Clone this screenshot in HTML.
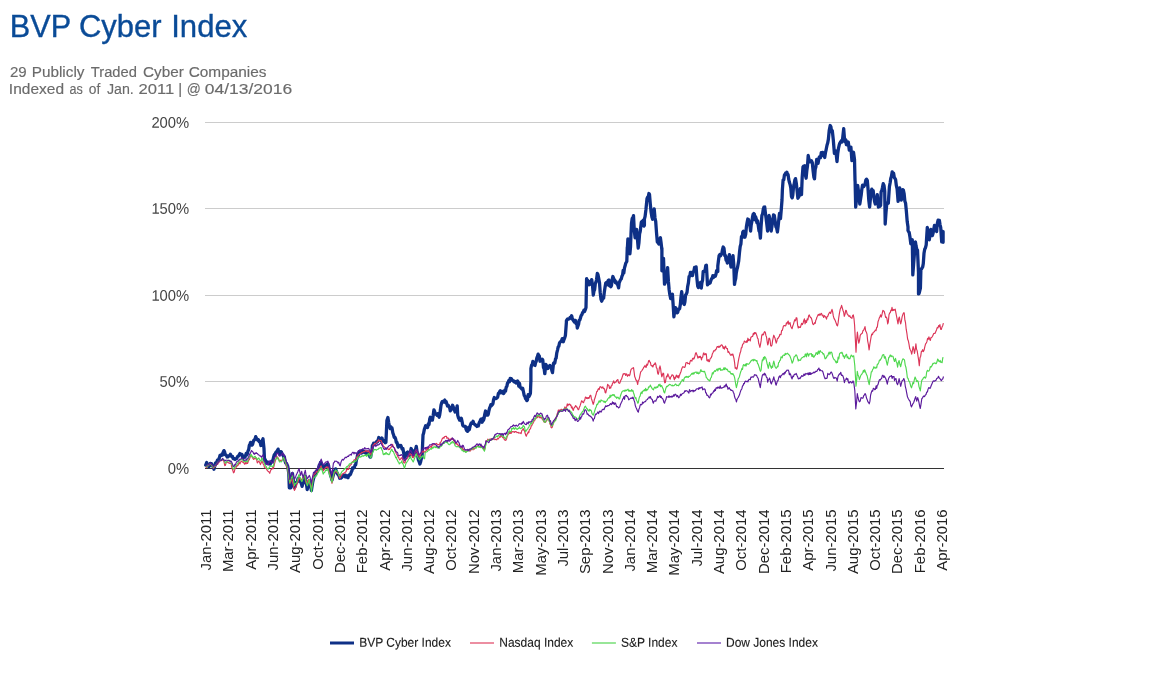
<!DOCTYPE html>
<html><head><meta charset="utf-8"><title>BVP Cyber Index</title>
<style>
html,body{margin:0;padding:0;background:#fff;}
body{width:1163px;height:684px;overflow:hidden;font-family:"Liberation Sans",sans-serif;}
svg{display:block;position:absolute;left:0;top:0;will-change:transform;}
svg text{font-family:"Liberation Sans",sans-serif;}
.t{fill:#0a4b97;stroke:#0a4b97;stroke-width:0.35px;}
.s{fill:#6b6b6b;stroke:#6b6b6b;stroke-width:0.15px;}
.yl{font-size:14.8px;fill:#444;text-anchor:end;}
.xl{font-size:14.9px;fill:#222;text-anchor:end;}
.lg{font-size:12px;fill:#1c1c1c;stroke:#1c1c1c;stroke-width:0.12px;}
</style></head>
<body>
<svg width="1163" height="684" viewBox="0 0 1163 684">
<rect width="1163" height="684" fill="#fff"/>
<text class="t" font-size="32" transform="translate(9.82,36.9) scale(0.9584,1)">BVP</text>
<text class="t" font-size="32" transform="translate(78.93,36.9) scale(0.9681,1)">Cyber</text>
<text class="t" font-size="32" transform="translate(171.15,36.9) scale(0.974,1)">Index</text>
<text class="s" font-size="15" transform="translate(9.9,76.8) scale(1.0035,1)">29</text>
<text class="s" font-size="15" transform="translate(31.68,76.8) scale(1.0217,1)">Publicly</text>
<text class="s" font-size="15" transform="translate(90.8,76.8) scale(0.9822,1)">Traded</text>
<text class="s" font-size="15" transform="translate(143,76.8) scale(1.0196,1)">Cyber</text>
<text class="s" font-size="15" transform="translate(188.7,76.8) scale(1.0269,1)">Companies</text>
<text class="s" font-size="15" transform="translate(8.87,93.6) scale(1.0339,1)">Indexed</text>
<text class="s" font-size="15" transform="translate(69.5,93.6) scale(0.8408,1)">as</text>
<text class="s" font-size="15" transform="translate(88.8,93.6) scale(0.9219,1)">of</text>
<text class="s" font-size="15" transform="translate(106.9,93.6) scale(0.9491,1)">Jan.</text>
<text class="s" font-size="15" transform="translate(138.5,93.6) scale(1.1092,1)">2011</text>
<text class="s" font-size="15" transform="translate(178.35,93.6) scale(1,1)">|</text>
<text class="s" font-size="15" transform="translate(186.78,93.6) scale(0.9231,1)">@</text>
<text class="s" font-size="15" transform="translate(204.8,93.6) scale(1.1655,1)">04/13/2016</text>
<line x1="205" x2="944" y1="122.5" y2="122.5" stroke="#cccccc" stroke-width="1"/>
<line x1="205" x2="944" y1="208.5" y2="208.5" stroke="#cccccc" stroke-width="1"/>
<line x1="205" x2="944" y1="295.5" y2="295.5" stroke="#cccccc" stroke-width="1"/>
<line x1="205" x2="944" y1="381.5" y2="381.5" stroke="#cccccc" stroke-width="1"/>
<text class="yl" transform="translate(189.2,127.7) rotate(0.05) scale(1,1.04)">200%</text>
<text class="yl" transform="translate(189.2,213.7) rotate(0.05) scale(1,1.04)">150%</text>
<text class="yl" transform="translate(189.2,300.7) rotate(0.05) scale(1,1.04)">100%</text>
<text class="yl" transform="translate(189.2,386.7) rotate(0.05) scale(1,1.04)">50%</text>
<text class="yl" transform="translate(189.2,473.7) rotate(0.05) scale(1,1.04)">0%</text>
<line x1="205" x2="944" y1="468.5" y2="468.5" stroke="#333" stroke-width="1"/>
<path d="M205.7 465.1L206.7 462.5L207.5 465.5L208.3 466.1L208.9 466.8L209.5 464.9L210.2 463.5L210.8 463.5L211.5 463.7L212.1 465.8L212.7 466.0L213.3 466.9L213.9 469.2L214.7 466.3L215.5 463.0L216.1 462.5L216.8 462.2L217.4 460.2L218.1 460.4L218.7 459.3L219.3 458.1L220.0 455.5L220.6 455.8L221.3 455.2L222.0 454.0L222.6 455.0L223.3 451.9L223.9 450.6L224.6 451.9L225.2 454.6L225.8 454.8L226.5 455.6L227.2 457.0L227.9 456.8L228.5 455.8L229.2 455.7L229.8 455.9L230.4 454.3L231.1 455.9L231.7 456.4L232.4 456.3L233.0 458.4L233.7 458.9L234.3 458.7L235.0 459.4L235.6 458.9L236.2 458.4L236.8 458.5L237.4 456.8L238.0 456.3L238.6 456.0L239.2 454.8L239.9 453.6L240.6 454.0L241.3 454.3L241.9 454.4L242.5 457.4L243.1 456.0L243.8 457.3L244.4 457.3L245.0 457.1L245.6 455.4L246.2 453.4L246.9 454.9L247.5 453.2L248.1 450.7L248.7 449.6L249.3 445.4L249.9 444.1L250.6 442.4L251.3 444.3L251.9 445.2L252.6 444.4L253.3 441.7L253.9 440.0L254.5 439.8L255.1 438.9L255.7 436.7L256.4 438.1L257.1 439.4L257.8 440.3L258.5 439.7L259.2 441.6L259.9 441.4L260.9 445.5L261.6 444.4L262.3 440.6L263.0 438.8L264.0 448.6L264.5 459.9L265.1 459.5L265.8 461.0L266.4 463.3L267.1 463.5L267.7 462.1L268.3 463.7L268.9 462.9L269.6 463.8L270.2 464.1L270.9 462.8L271.6 462.0L272.2 461.0L272.9 460.3L273.6 457.2L274.3 454.8L274.9 455.1L275.5 453.0L276.2 451.8L276.8 451.8L277.4 450.6L278.1 449.1L278.8 453.0L279.5 454.3L280.2 453.7L280.8 451.7L281.5 452.2L282.2 454.2L282.9 454.8L283.6 456.8L284.3 456.6L285.0 460.8L285.7 463.0L286.3 463.2L287.0 464.6L287.7 466.1L288.8 473.3L289.3 487.8L290.0 487.7L290.8 487.8L291.6 481.7L292.4 473.3L293.1 478.3L293.7 482.9L294.4 487.8L295.1 486.4L295.8 482.7L296.5 482.6L297.3 481.7L298.0 478.5L298.7 478.5L299.3 480.7L300.0 481.3L300.7 482.0L301.4 483.8L302.1 486.4L302.7 483.5L303.4 483.0L304.0 479.3L304.6 476.1L305.3 478.9L305.9 482.6L306.6 485.1L307.2 489.5L307.9 486.8L308.6 483.5L309.3 481.3L310.0 485.0L310.7 486.3L311.4 490.6L312.0 486.5L312.7 482.2L313.4 479.2L314.1 476.5L314.8 475.7L315.5 473.0L316.1 472.1L316.7 471.5L317.3 471.0L318.0 469.9L318.6 467.9L319.2 465.3L319.9 465.8L320.5 462.4L321.2 462.7L321.8 464.7L322.5 468.6L323.2 468.9L323.9 467.7L324.6 466.5L325.3 465.8L325.9 465.4L326.6 464.8L327.2 464.3L327.9 463.7L328.6 465.8L329.2 470.2L329.9 472.0L330.6 475.5L331.3 477.3L332.0 480.2L332.7 477.4L333.4 474.6L334.1 471.0L334.8 470.9L335.6 468.9L336.3 471.0L337.0 473.0L337.7 474.1L338.4 475.2L339.0 475.8L339.7 478.2L340.4 477.2L341.0 478.1L341.7 477.5L342.3 476.1L342.9 476.0L343.6 475.2L344.2 475.8L344.8 476.7L345.4 475.1L346.1 477.0L346.7 475.8L347.3 477.0L348.0 477.7L348.6 475.5L349.3 474.8L349.9 475.1L350.6 474.1L351.3 472.0L351.9 470.8L352.6 467.9L353.3 468.3L353.9 467.4L354.5 467.2L355.1 464.9L355.7 464.8L356.4 459.9L357.1 457.7L357.8 453.4L358.4 455.5L359.0 453.1L359.6 451.4L360.3 452.4L360.9 451.9L361.5 453.1L362.1 450.7L362.7 452.3L363.4 450.9L364.0 451.4L364.6 452.6L365.2 452.3L365.8 452.0L366.5 453.6L367.1 451.9L367.8 452.0L368.5 452.2L369.1 453.4L369.9 457.0L370.7 457.0L371.3 452.3L371.9 451.4L372.4 445.4L373.0 444.9L373.6 443.3L374.2 443.9L374.8 443.5L375.4 443.0L376.0 442.3L376.7 441.4L377.4 442.0L378.1 440.2L378.8 437.5L379.4 438.9L380.0 438.8L380.7 438.7L381.3 441.2L382.0 438.0L382.6 440.3L383.3 441.3L383.9 440.4L384.6 441.1L385.2 442.7L385.9 442.3L386.9 420.6L387.9 417.5L388.7 422.6L389.5 426.8L390.1 428.6L390.8 426.7L391.4 427.9L392.0 427.9L392.8 432.7L393.6 435.1L394.3 437.4L395.0 437.5L395.7 439.2L396.3 442.4L397.0 442.4L397.7 445.4L398.3 447.1L399.0 445.6L399.6 445.3L400.2 445.7L400.8 445.4L401.5 447.3L402.2 449.2L402.9 448.5L403.7 453.0L404.4 457.8L405.1 456.2L405.7 455.8L406.4 453.1L407.0 452.6L407.7 452.0L408.4 455.5L409.1 455.7L409.8 453.0L410.4 452.0L411.1 448.5L411.8 449.9L412.5 450.5L413.2 455.7L413.8 454.1L414.4 452.2L415.1 451.7L415.7 448.8L416.3 446.4L417.0 451.2L417.7 455.9L418.4 459.9L419.1 461.6L419.9 464.0L420.6 462.0L421.3 458.6L422.0 457.8L423.0 435.1L423.6 433.3L424.3 429.6L424.9 427.7L425.6 425.8L426.3 426.9L427.0 427.5L427.6 426.8L427.6 427.5L428.3 423.8L429.0 424.5L429.7 419.1L430.3 417.2L431.0 419.1L431.7 420.2L432.4 420.2L433.2 415.3L433.9 409.9L434.6 411.2L435.2 414.0L435.9 414.0L436.5 414.1L437.2 415.3L437.8 413.6L438.4 415.6L439.1 417.2L439.7 414.8L440.4 410.1L441.0 405.2L441.7 402.7L442.3 401.5L442.9 401.3L443.5 401.9L444.1 401.1L444.8 400.1L445.5 402.5L446.1 401.6L446.8 403.7L447.5 405.9L448.2 405.2L448.9 406.8L449.6 407.5L450.3 410.8L451.0 409.9L451.7 407.7L452.5 405.3L453.2 406.8L453.8 408.4L454.4 409.9L455.1 412.0L455.8 411.7L456.5 409.4L457.2 405.8L457.7 415.1L458.4 417.6L459.0 418.7L459.7 420.2L460.5 420.3L461.3 418.2L462.1 421.7L462.8 425.4L463.5 426.1L464.1 426.3L464.8 426.3L465.4 426.4L466.1 429.3L466.7 430.6L467.3 431.3L468.0 431.1L468.6 427.4L469.3 429.7L469.9 426.8L470.6 424.4L471.2 423.1L471.9 422.8L472.5 423.3L473.1 421.3L473.8 423.6L474.4 424.3L475.1 424.5L475.7 425.4L476.4 425.6L477.0 426.5L477.7 425.7L478.3 425.9L479.0 423.3L479.6 421.9L480.2 420.7L480.9 419.2L481.5 419.8L482.2 422.2L482.8 418.5L483.5 420.2L484.2 417.7L484.8 414.0L485.5 411.0L486.2 412.7L486.9 415.2L487.6 415.1L488.2 414.4L488.9 410.8L489.5 408.3L490.2 406.8L490.9 404.6L491.6 405.4L492.2 404.8L492.9 403.8L493.6 399.6L494.3 397.5L494.9 398.5L495.6 398.6L496.2 398.4L496.9 398.1L497.7 397.0L498.4 393.4L499.1 392.9L499.7 391.6L500.3 390.8L500.9 392.8L501.5 391.4L502.2 391.3L502.8 391.8L503.5 393.5L504.1 392.9L504.8 390.1L505.5 391.2L506.2 387.2L506.9 386.3L507.5 383.1L508.2 382.1L508.9 380.5L509.5 381.8L510.2 378.3L510.8 379.0L511.4 378.8L512.0 379.9L512.6 380.5L513.2 380.8L513.8 381.7L514.4 381.3L514.9 382.1L515.6 381.7L516.2 383.1L516.9 382.1L517.5 381.0L518.2 382.0L518.8 386.2L519.5 383.3L520.1 387.2L520.7 387.6L521.4 388.5L522.0 389.2L522.7 388.3L523.5 392.0L524.2 395.5L524.9 396.3L525.5 398.7L526.2 399.1L526.8 400.6L527.5 399.8L528.2 394.6L528.9 396.5L529.6 395.4L530.4 393.4L530.9 380.0L530.9 381.9L530.9 368.5L531.6 365.1L532.2 364.9L532.9 361.3L533.6 363.6L534.3 365.0L535.0 365.4L535.6 362.6L536.2 361.4L536.8 358.1L537.4 356.6L538.1 354.1L538.7 355.4L539.3 356.0L540.0 361.3L540.6 360.2L541.4 360.7L542.2 359.2L542.8 360.2L543.5 367.6L544.1 368.3L544.8 373.7L545.8 364.4L546.5 365.5L547.2 366.4L547.9 368.5L548.6 366.8L549.2 366.7L549.9 365.4L550.6 366.8L551.2 367.2L551.9 370.8L552.5 372.6L553.5 363.3L554.2 362.5L554.8 363.1L555.5 358.9L556.1 358.2L556.8 352.8L557.5 350.1L558.2 346.8L558.8 346.4L559.5 343.0L560.1 342.0L560.8 341.7L561.5 340.9L562.3 338.6L563.3 341.7L564.0 339.6L564.7 337.9L565.4 335.5L566.4 322.1L566.4 320.9L567.1 319.6L567.7 318.9L568.3 319.2L568.9 319.0L569.5 318.8L570.2 317.3L570.9 317.4L571.6 315.7L572.3 318.3L573.0 320.0L573.7 320.9L574.3 322.0L574.9 320.4L575.5 320.5L576.1 323.6L576.8 323.0L577.3 328.1L577.9 326.1L578.6 324.2L579.2 320.2L579.9 319.9L580.5 317.8L581.2 315.5L581.9 314.7L582.6 312.6L583.2 312.2L583.9 310.2L584.5 311.6L585.3 309.7L586.0 307.5L586.6 278.6L587.2 282.0L587.9 280.5L588.5 283.4L589.1 284.8L589.8 281.7L590.4 283.3L591.1 283.9L591.7 279.6L592.5 285.4L593.3 295.1L594.0 290.9L594.6 289.8L595.3 283.7L596.0 282.0L596.6 279.3L597.3 273.5L597.9 274.4L598.7 278.3L599.5 282.7L600.2 292.4L601.0 299.2L601.7 301.2L602.3 299.7L602.9 297.5L603.6 298.2L604.4 291.4L605.1 286.8L605.8 282.9L606.4 282.6L607.0 284.9L607.6 281.7L608.2 280.6L608.9 280.0L609.5 285.8L610.2 282.6L610.8 286.8L611.5 285.4L612.2 279.4L612.9 276.5L613.5 278.1L614.1 279.7L614.7 280.0L615.4 282.6L616.0 281.7L616.6 283.2L617.3 284.2L617.9 285.3L618.6 287.9L619.2 282.8L619.9 281.2L620.6 279.6L621.3 278.9L621.9 276.3L622.6 274.9L623.2 270.3L623.8 273.0L624.5 267.9L625.1 265.7L625.8 263.1L626.8 261.5L627.3 247.1L627.3 250.2L627.9 238.8L628.9 240.9L629.4 248.1L629.9 253.8L630.5 247.1L631.0 233.7L631.5 223.3L632.2 218.4L632.9 217.7L633.5 215.6L634.3 230.7L635.1 237.8L635.9 234.6L636.6 229.5L637.4 238.6L638.2 248.1L638.9 243.1L639.6 233.7L640.2 231.6L641.3 222.3L641.9 221.5L642.5 221.2L643.1 220.3L643.8 226.1L644.4 225.4L644.4 219.2L645.1 216.4L645.9 209.9L647.0 198.6L647.6 197.2L648.2 197.2L648.9 193.5L649.5 194.4L650.3 204.1L651.1 212.0L651.9 217.0L652.6 219.2L653.4 216.9L654.2 208.9L655.0 218.0L655.7 221.3L656.5 232.5L657.3 241.9L658.0 242.7L658.8 244.0L659.6 239.4L660.4 237.8L661.1 242.9L661.9 250.2L661.9 248.1L661.9 270.8L662.7 265.6L663.5 258.4L664.5 284.2L665.2 282.7L665.9 279.4L666.6 277.0L667.6 267.7L668.4 281.2L669.1 289.4L669.9 295.0L670.7 298.7L671.3 297.2L671.8 295.4L672.4 294.2L673.2 305.7L673.9 316.9L674.7 310.9L675.5 307.6L676.3 308.7L677.0 312.8L677.7 312.3L678.3 309.9L679.0 309.3L679.6 308.7L680.3 304.8L681.0 297.0L681.7 291.6L682.3 296.9L683.0 298.1L683.6 303.6L684.3 304.5L684.9 301.8L685.6 294.9L686.3 294.2L687.0 292.4L687.7 286.3L688.4 282.9L689.1 276.3L689.8 276.2L690.4 272.5L691.1 273.8L691.8 272.5L692.5 275.6L693.2 271.9L693.9 271.0L694.6 267.4L695.3 269.5L696.1 266.9L696.9 278.3L697.7 286.0L698.4 287.6L699.0 287.1L699.7 284.9L700.5 282.5L701.3 288.0L701.9 282.7L702.6 280.1L703.2 271.3L703.9 271.5L704.5 271.2L705.1 269.9L705.8 265.6L706.4 265.3L707.5 284.9L708.1 283.8L708.8 282.4L709.4 283.4L710.1 282.9L710.8 280.7L711.6 278.7L712.2 278.1L712.8 275.8L713.5 277.5L714.1 275.7L714.7 275.6L715.3 276.3L715.9 274.5L716.6 270.7L717.2 270.1L717.8 271.5L717.8 266.0L718.4 261.0L719.1 255.7L719.8 254.6L720.5 255.8L721.2 254.7L721.8 253.5L722.5 249.6L723.2 247.0L724.0 248.4L724.8 255.7L725.4 255.5L726.1 260.3L726.7 259.4L727.3 263.0L728.0 262.1L728.7 257.3L729.4 254.7L730.2 261.8L731.0 267.1L731.6 261.8L732.3 259.3L733.0 255.7L733.8 265.2L734.5 284.4L735.1 280.8L735.7 278.6L736.3 272.9L736.9 269.6L737.5 267.5L738.1 264.3L738.7 260.9L739.5 252.3L740.2 246.4L740.9 244.0L741.5 236.3L742.2 237.6L742.8 232.0L743.5 231.2L744.2 234.0L744.9 237.2L745.7 234.4L746.4 226.8L747.1 222.6L747.8 219.0L748.5 219.6L749.2 223.5L749.9 225.5L750.6 231.0L751.2 224.8L751.9 221.4L752.5 217.2L753.1 214.4L753.8 213.6L754.4 214.2L755.0 219.9L755.6 216.6L756.2 218.6L756.9 222.8L757.6 220.8L758.3 225.8L759.0 230.9L759.7 231.8L760.4 238.2L761.1 226.0L761.9 215.5L762.6 213.9L763.3 209.0L764.0 207.2L764.7 207.0L765.4 213.1L766.0 217.5L766.8 224.0L767.6 231.0L768.4 224.3L769.1 215.5L769.8 218.8L770.5 225.3L771.2 231.0L772.0 225.9L772.8 220.6L773.5 215.0L774.3 215.5L775.1 221.0L775.9 226.8L776.6 227.9L777.4 232.0L778.1 226.6L778.8 219.4L779.5 213.4L780.5 218.6L781.3 209.0L782.0 200.0L782.4 189.5L783.1 180.0L783.8 179.7L784.4 175.1L785.0 174.4L785.7 173.0L786.3 173.8L786.9 172.2L787.5 175.0L788.1 174.6L788.7 179.2L789.4 182.3L790.1 184.4L790.8 187.8L791.5 196.6L792.2 197.8L792.8 195.1L793.5 187.2L794.1 184.4L794.8 180.2L795.5 178.6L796.3 183.3L797.1 190.6L797.9 198.3L798.5 197.2L799.2 195.9L799.8 190.1L800.4 188.5L801.5 194.7L802.2 177.2L803.0 166.8L803.8 166.0L804.6 165.8L805.3 174.7L806.1 178.2L806.8 170.9L807.5 165.7L808.2 155.5L808.8 158.7L809.5 161.8L810.1 161.4L810.8 161.7L811.5 160.8L812.3 162.7L813.1 170.8L813.9 177.2L814.5 178.8L815.2 169.2L815.9 166.8L816.7 159.4L817.5 159.6L818.1 163.3L818.7 159.6L819.3 157.1L819.9 156.8L820.6 157.5L821.3 152.6L821.9 155.6L822.6 152.4L823.3 154.4L824.0 154.5L824.7 157.5L825.5 152.5L826.2 149.3L826.2 149.2L827.0 145.2L827.7 143.0L828.4 139.1L829.2 130.6L830.2 125.5L830.9 126.8L831.6 131.9L832.3 130.6L833.3 139.9L834.4 153.3L835.1 150.6L835.9 151.3L837.0 161.6L837.7 153.6L838.5 148.2L839.2 145.1L839.9 142.9L840.6 142.0L841.3 140.8L841.9 142.1L842.6 138.9L843.7 128.6L844.4 137.9L845.2 142.0L845.8 139.8L846.4 144.7L847.1 142.2L847.7 145.2L848.3 142.0L849.3 150.2L850.1 148.3L850.9 147.2L851.9 160.6L852.7 154.7L853.5 152.3L854.5 159.5L855.0 180.2L855.1 181.3L855.7 207.1L856.3 201.4L857.0 193.8L857.7 185.4L858.4 190.7L859.1 197.8L859.8 204.0L860.5 199.4L861.2 195.0L861.8 189.5L862.5 185.2L863.1 185.1L863.8 186.5L864.4 185.4L865.1 183.9L865.8 180.2L866.5 179.2L867.3 180.4L868.0 188.5L868.8 200.4L869.6 207.1L870.4 198.8L871.1 191.6L871.8 189.2L872.5 194.0L873.2 190.6L873.9 197.2L874.6 201.5L875.3 204.0L876.0 202.5L876.6 198.9L877.3 194.7L878.4 207.1L878.4 206.4L878.9 204.3L879.5 206.0L880.0 206.3L880.6 205.4L881.1 192.0L881.8 190.5L882.5 187.4L883.2 183.7L884.0 185.4L884.7 191.0L885.2 224.0L886.0 212.5L886.8 203.3L887.6 202.7L888.3 203.3L889.4 186.8L890.1 183.0L890.8 178.2L891.4 176.5L892.2 171.8L893.0 174.4L893.6 173.3L894.3 177.6L894.9 178.3L895.6 179.6L896.3 185.4L897.1 188.9L898.1 201.3L898.9 190.9L899.7 187.9L900.5 193.3L901.2 200.2L901.9 198.5L902.6 189.6L903.3 189.9L904.1 193.5L904.9 201.3L905.6 203.3L906.4 211.6L907.2 221.6L908.0 227.1L908.0 230.5L908.6 231.6L909.2 232.5L910.0 237.2L910.8 243.9L911.5 242.1L912.3 239.8L912.8 274.9L913.6 264.4L914.4 254.2L915.4 241.8L916.1 246.2L916.8 249.4L917.5 250.1L918.5 272.8L918.5 293.9L919.1 293.4L919.8 290.6L920.4 288.2L920.9 269.2L921.5 269.0L922.1 267.7L922.7 266.9L923.3 263.5L924.0 253.3L924.7 249.3L925.5 247.7L926.2 244.9L927.3 227.4L928.0 231.7L928.7 235.9L929.3 239.8L930.1 234.2L930.9 229.4L931.7 232.4L932.4 235.6L933.1 233.1L933.8 229.1L934.5 225.3L935.2 227.6L935.9 227.5L936.6 231.5L937.3 223.6L938.1 220.2L938.8 220.6L939.4 220.5L940.0 224.6L940.7 227.4L941.7 241.8L942.4 235.2L943.1 231.5L943.1 242.3" fill="none" stroke="#0e3086" stroke-width="3.3" stroke-linejoin="round" stroke-linecap="round"/>
<path d="M205.7 467.2L206.3 467.7L206.8 466.0L207.4 466.2L208.0 465.7L208.6 465.7L209.2 464.0L209.7 464.3L210.3 464.1L210.9 464.5L211.6 465.1L212.2 466.1L212.8 467.1L213.4 468.2L214.0 467.4L214.7 466.4L215.3 466.6L215.9 465.4L216.5 465.1L217.1 463.0L217.7 464.4L218.3 462.9L218.9 462.0L219.5 461.9L220.1 461.2L220.6 460.4L221.3 460.3L221.9 459.7L222.6 460.2L223.2 459.9L224.0 461.9L224.8 465.6L225.5 465.2L226.1 462.5L226.8 462.0L227.4 462.1L228.0 462.5L228.6 462.9L229.2 462.9L229.8 463.5L230.4 463.5L231.1 463.5L231.7 467.1L232.3 469.0L232.9 470.7L233.5 472.8L234.2 472.1L234.9 469.1L235.6 468.2L236.2 467.3L236.9 465.4L237.5 465.9L238.2 465.1L238.8 463.3L239.4 462.5L240.0 463.9L240.7 462.1L241.3 461.0L241.9 461.5L242.5 462.2L243.1 461.9L243.8 462.8L244.4 464.1L245.0 464.1L245.6 462.5L246.2 463.8L246.9 462.6L247.5 463.5L248.1 462.0L248.7 459.7L249.3 459.9L249.9 457.9L250.6 455.8L251.2 456.1L251.8 456.0L252.4 457.4L253.0 458.6L253.7 459.4L254.3 458.3L255.0 458.7L255.6 458.8L256.2 457.9L257.3 463.0L258.0 461.9L258.8 461.0L259.6 462.4L260.4 464.6L261.1 463.1L261.9 461.0L262.5 462.1L263.2 464.1L263.8 464.7L264.4 467.1L265.0 467.7L265.7 468.3L266.4 468.7L267.1 470.2L267.7 471.0L268.4 471.4L269.0 472.0L269.7 473.3L270.4 471.1L271.2 469.2L271.9 469.4L272.6 467.6L273.3 468.7L274.0 466.0L274.6 463.4L275.3 461.0L276.1 458.5L276.9 456.3L277.6 457.9L278.3 457.9L278.9 459.9L279.6 460.5L280.2 460.2L280.9 460.7L281.5 461.0L282.2 459.7L282.9 458.6L283.6 457.9L284.3 459.2L285.0 461.5L285.7 463.0L286.3 466.2L287.0 467.7L287.7 469.2L288.4 474.4L289.1 479.1L289.8 483.7L290.5 481.6L291.2 480.5L291.8 478.5L292.5 482.6L293.1 483.7L293.8 487.8L294.4 490.4L295.1 489.3L295.8 487.4L296.5 485.7L297.1 484.1L297.8 482.3L298.4 480.7L299.1 477.5L299.7 478.7L300.4 479.4L301.0 479.2L301.7 479.5L302.3 478.9L302.9 477.5L303.6 476.6L304.2 475.4L304.9 477.9L305.6 481.3L306.3 483.7L307.0 483.1L307.7 480.8L308.4 479.5L309.0 481.3L309.6 483.2L310.2 484.5L310.8 486.6L311.5 487.8L312.1 483.8L312.8 478.9L313.5 475.4L314.1 474.0L314.8 474.1L315.4 473.3L316.0 472.7L316.6 471.3L317.3 471.3L317.9 471.2L318.6 471.0L319.2 468.8L319.9 469.1L320.5 466.5L321.2 465.8L321.8 468.1L322.5 468.6L323.2 471.0L323.9 469.5L324.6 469.0L325.3 467.9L325.9 467.3L326.6 466.9L327.2 467.6L327.9 466.8L328.6 469.6L329.2 471.9L329.9 474.1L330.6 476.9L331.3 479.8L332.0 483.3L332.7 479.6L333.4 476.2L334.1 473.0L334.8 472.0L335.6 471.0L336.3 472.1L337.0 472.2L337.7 473.0L338.4 474.3L339.0 476.1L339.7 478.2L340.4 477.8L341.0 476.2L341.7 475.2L342.3 474.1L342.9 473.8L343.6 473.5L344.2 472.9L344.8 473.0L345.4 472.0L346.1 471.7L346.7 468.9L347.3 469.6L348.0 468.9L348.6 469.5L349.3 466.1L349.9 465.9L350.6 464.8L351.3 464.4L351.9 462.7L352.6 461.7L353.3 462.0L353.9 460.1L354.5 459.7L355.1 459.9L355.7 459.6L356.4 457.9L357.1 456.5L357.8 456.3L358.5 454.7L359.1 454.5L359.7 454.0L360.2 453.4L360.8 453.5L361.4 452.9L361.9 452.2L362.5 452.6L363.1 452.1L363.7 451.6L364.2 451.5L364.8 451.8L365.4 450.6L366.0 451.0L366.5 450.7L367.1 451.8L367.7 451.1L368.3 451.6L368.8 450.6L369.5 452.9L370.2 453.1L370.9 454.7L371.6 450.9L372.3 448.8L373.0 445.4L373.5 444.8L374.1 444.4L374.7 443.3L375.2 444.0L375.8 443.2L376.4 442.9L377.0 442.4L377.5 441.3L378.1 441.3L378.7 439.7L379.3 440.9L380.0 440.5L380.6 440.5L381.2 440.8L381.9 442.8L382.5 443.5L383.1 446.0L383.8 446.4L384.4 447.0L385.0 447.7L385.6 448.0L386.3 448.6L386.9 448.5L387.5 447.9L388.2 449.7L388.8 449.3L389.5 449.5L390.1 447.9L390.7 447.9L391.3 446.7L391.9 446.2L392.6 444.4L393.2 446.3L393.8 447.5L394.4 447.7L395.0 451.2L395.7 451.6L396.2 453.5L396.8 454.4L397.4 455.4L398.0 457.1L398.6 457.0L399.2 459.0L399.8 459.9L400.5 459.2L401.2 457.9L401.8 457.8L402.5 459.3L403.1 460.6L403.8 462.7L404.4 463.0L405.1 462.5L405.7 459.9L406.4 458.7L407.0 458.8L407.6 457.7L408.2 456.6L408.9 455.2L409.5 453.8L410.1 453.7L410.7 454.4L411.3 454.6L412.0 455.7L412.6 457.5L413.2 457.8L413.8 456.3L414.4 454.0L415.1 452.1L415.7 451.1L416.3 449.5L416.9 452.0L417.5 452.1L418.2 454.9L418.8 454.9L419.4 456.8L420.0 455.6L420.6 455.1L421.2 453.2L421.9 452.7L422.5 451.6L423.1 450.8L423.7 452.0L424.3 452.3L425.0 451.2L425.6 451.6L425.6 451.2L426.2 450.6L426.8 449.6L427.4 447.8L428.1 450.2L428.7 448.1L429.3 447.1L429.9 447.2L430.4 446.8L431.0 446.3L431.6 447.5L432.2 444.4L432.7 445.2L433.3 444.8L433.9 444.7L434.4 444.5L435.0 444.8L435.6 443.9L436.2 443.4L436.7 443.5L437.3 444.5L437.9 444.8L438.5 444.6L439.0 444.8L439.6 444.0L440.3 442.3L440.9 442.1L441.5 440.6L442.2 438.8L442.8 438.3L443.4 437.4L444.0 438.2L444.6 436.6L445.2 436.5L445.8 436.2L446.4 436.2L447.0 438.5L447.6 437.8L448.2 438.0L448.7 438.7L449.3 439.2L449.9 439.9L450.5 439.7L451.2 438.3L451.8 438.4L452.4 439.4L453.0 438.8L453.7 440.9L454.3 440.7L455.0 442.8L455.6 444.0L456.2 444.0L456.8 443.2L457.4 444.8L458.0 444.6L458.6 446.2L459.2 446.0L459.8 446.4L460.3 447.0L460.9 446.5L461.5 448.0L462.0 447.1L462.6 449.0L463.2 450.2L463.7 449.0L464.3 450.8L464.8 451.3L465.4 451.2L466.0 451.0L466.6 451.7L467.1 450.9L467.7 450.4L468.3 449.4L468.8 449.8L469.4 449.5L470.0 451.3L470.6 450.2L471.2 449.9L471.8 449.4L472.4 448.3L473.0 449.9L473.6 447.7L474.2 449.1L474.8 448.5L475.4 447.5L476.0 446.6L476.6 446.7L477.2 445.9L477.8 446.0L478.4 446.4L479.0 447.2L479.6 446.6L480.2 446.7L480.7 445.6L481.3 446.2L481.9 446.0L482.6 446.4L483.2 447.8L483.9 449.6L484.5 450.2L485.3 447.2L486.0 440.9L486.6 440.8L487.2 440.6L487.8 439.1L488.4 440.4L489.0 439.5L489.6 439.2L490.2 439.9L490.8 438.9L491.4 439.7L491.9 439.1L492.5 439.7L493.1 439.0L493.7 439.0L494.3 438.8L494.9 439.6L495.5 439.4L496.1 439.4L496.7 439.9L497.3 439.0L497.8 438.3L498.4 438.8L499.1 437.7L499.7 436.5L500.3 437.2L500.9 436.1L501.5 435.7L502.1 436.7L502.7 437.6L503.3 437.1L503.9 438.5L504.5 439.9L505.1 439.8L505.7 440.4L506.3 439.6L506.9 437.6L507.5 435.7L508.1 434.8L508.8 433.7L509.3 432.3L509.9 433.6L510.5 432.4L511.1 433.5L511.7 431.3L512.3 432.0L512.9 431.6L513.5 431.9L514.1 431.7L514.6 432.3L515.2 431.6L515.8 431.6L516.4 431.7L517.0 432.6L517.6 432.5L518.2 432.3L518.8 433.2L519.4 433.0L520.0 432.9L520.5 433.1L521.1 433.7L521.8 430.5L522.5 429.9L523.2 428.5L523.8 430.3L524.4 430.6L525.1 433.0L525.7 435.2L526.3 436.2L526.9 434.4L527.5 433.7L528.2 431.9L528.8 432.6L529.4 429.5L530.0 429.3L530.6 428.4L531.2 425.9L531.7 425.9L532.3 424.2L532.9 423.6L533.5 422.3L534.1 420.9L534.8 420.4L535.4 418.6L536.0 418.4L536.6 417.2L537.2 416.4L537.8 417.7L538.4 415.6L539.0 415.8L539.6 417.5L540.2 417.9L540.8 417.2L541.4 417.6L542.0 418.8L542.6 419.5L543.2 420.4L543.8 421.9L544.4 421.2L545.0 422.4L545.6 422.2L546.3 421.1L546.9 419.7L547.5 419.9L548.1 418.8L548.7 419.4L549.3 420.6L549.9 424.2L550.5 424.0L551.1 427.4L551.7 427.8L552.3 427.2L552.9 424.8L553.5 423.2L554.1 420.9L554.7 421.3L555.3 420.0L555.9 417.3L556.5 418.1L557.1 413.8L557.7 413.6L558.3 410.0L558.9 410.4L559.5 410.1L560.1 411.3L560.7 409.7L561.3 409.3L561.9 409.5L562.5 410.1L563.1 409.8L563.7 410.1L564.3 408.8L564.9 406.9L565.5 408.6L566.1 408.0L566.7 406.7L567.3 403.8L567.9 405.7L568.5 404.3L569.1 404.5L569.7 404.1L570.3 405.3L570.9 405.0L571.5 407.9L572.1 406.8L572.7 409.1L573.3 410.4L573.9 408.3L574.5 407.4L575.1 406.6L575.7 405.6L576.3 407.0L576.9 406.9L577.6 408.5L578.2 409.8L578.8 409.3L579.4 407.2L580.0 405.9L580.6 404.1L581.2 402.1L581.8 400.7L582.4 401.7L583.0 402.4L583.6 402.6L584.2 400.7L584.8 399.9L585.4 397.1L586.0 397.3L586.6 398.4L587.2 397.7L587.8 398.6L588.4 397.6L589.0 398.3L589.6 396.8L590.2 395.3L590.8 395.3L591.4 398.7L592.0 400.3L592.6 402.3L593.2 404.4L593.8 402.8L594.4 399.4L595.0 398.1L595.6 395.9L596.2 394.0L596.8 391.3L597.4 391.3L598.0 389.4L598.6 388.7L599.2 389.6L599.8 387.1L600.4 386.7L601.0 386.9L601.6 388.1L602.2 387.7L602.8 386.8L603.4 388.7L604.0 388.3L604.6 389.3L605.2 392.7L605.8 392.9L606.4 389.9L607.0 388.3L607.6 384.4L608.2 385.1L608.8 385.2L609.5 388.4L610.1 387.2L610.7 388.1L611.3 385.8L611.9 385.5L612.5 383.5L613.1 382.3L613.7 380.9L614.3 383.1L614.9 382.7L615.5 382.1L616.1 382.0L616.7 380.3L617.3 380.0L617.9 379.5L618.5 382.8L619.1 383.1L619.7 383.3L620.3 381.7L620.9 380.0L621.5 379.2L622.1 377.4L622.7 375.5L623.3 373.7L623.9 374.2L624.5 373.6L625.1 373.6L625.7 375.5L626.3 373.9L626.9 374.3L627.5 376.3L628.1 375.2L628.7 374.7L629.3 375.8L629.9 374.9L630.5 371.6L631.1 369.4L631.7 368.8L632.3 368.2L632.9 368.1L633.5 367.6L634.1 371.8L634.7 376.6L635.3 377.9L635.9 380.1L636.5 380.1L637.1 382.0L637.7 384.5L638.3 380.3L638.9 380.2L639.5 377.8L640.1 374.7L640.7 371.9L641.4 371.2L642.0 370.5L642.6 369.4L643.2 368.6L643.8 367.0L644.4 366.9L645.0 365.4L645.6 367.1L646.2 367.3L646.8 364.0L647.4 365.2L648.0 363.4L648.6 360.8L649.2 360.4L649.8 362.0L650.4 362.3L651.0 365.3L651.6 366.0L652.2 365.5L652.8 367.0L653.4 365.5L654.0 364.3L654.6 364.5L655.2 362.8L655.8 364.2L656.4 367.9L657.0 368.2L657.6 373.0L658.2 374.3L658.8 372.1L659.4 367.8L660.0 366.4L660.0 365.9L660.6 368.7L661.2 373.3L661.8 376.8L662.4 375.2L663.0 373.2L663.6 373.4L664.2 379.8L664.8 382.8L665.4 382.4L666.0 378.7L666.6 376.0L667.2 376.7L667.8 373.8L668.4 375.4L669.0 376.7L669.6 378.4L670.2 379.2L670.8 376.9L671.4 376.4L672.0 374.8L672.6 375.0L673.2 375.4L673.8 377.8L674.4 379.8L675.0 377.1L675.6 378.2L676.3 375.0L676.9 376.2L677.5 377.3L678.1 375.5L678.7 378.0L679.3 375.9L679.9 374.2L680.5 372.7L681.1 371.2L681.7 368.9L682.3 367.5L682.9 366.7L683.5 367.1L684.1 367.1L684.7 367.5L685.3 366.2L685.9 362.9L686.5 362.8L687.1 362.4L687.7 363.6L688.3 363.5L688.9 363.4L689.5 364.2L690.1 361.5L690.7 360.3L691.3 360.5L691.9 361.1L692.5 358.7L693.1 358.1L693.7 359.1L694.3 358.1L694.9 356.1L695.5 353.3L696.1 352.7L696.7 354.2L697.3 355.8L697.9 358.1L698.5 357.4L699.1 356.4L699.7 357.4L700.3 356.3L700.9 357.7L701.5 359.9L702.1 357.2L702.7 357.1L703.3 353.9L703.9 352.9L704.5 354.7L705.1 354.6L705.7 353.6L706.3 353.9L706.9 360.5L707.6 361.0L708.2 359.5L708.8 361.7L709.4 361.7L710.0 359.2L710.6 358.0L711.2 357.9L711.8 356.3L712.4 353.7L713.0 352.8L713.6 350.9L714.2 350.7L714.8 350.9L715.4 349.5L716.0 349.6L716.6 347.9L717.2 346.5L717.8 346.5L718.4 347.3L719.0 346.1L719.6 347.2L720.2 346.6L720.8 345.4L721.4 344.8L722.0 345.1L722.6 346.1L723.2 348.4L723.8 346.9L724.4 349.1L725.0 347.3L725.6 346.1L726.2 347.8L726.8 348.7L727.4 348.5L728.0 352.5L728.6 351.5L729.2 352.6L729.8 353.6L730.4 355.1L731.0 355.1L731.6 354.3L732.2 355.1L732.8 353.9L733.4 356.1L734.0 358.7L734.6 362.6L735.2 368.3L735.8 367.5L736.4 369.1L737.0 368.9L737.6 365.6L738.2 361.9L738.8 358.7L739.5 355.5L740.1 353.0L740.7 351.5L741.3 347.9L741.9 347.7L742.5 344.8L743.1 343.7L743.7 343.7L744.3 341.0L744.9 341.6L745.5 341.9L746.1 342.5L746.7 340.8L747.3 342.1L747.9 338.2L748.5 340.6L749.1 339.4L749.7 339.7L750.3 340.9L750.9 337.0L751.5 337.0L752.1 336.4L752.7 336.4L753.3 333.4L753.9 334.6L754.5 332.5L755.1 333.4L755.7 332.6L756.3 334.0L756.9 335.7L757.5 338.1L758.1 338.8L758.7 343.3L759.3 345.1L759.9 347.3L760.5 344.5L761.1 340.9L761.7 335.8L762.3 334.1L762.9 335.0L763.5 334.5L764.1 332.3L764.7 331.6L765.3 332.3L765.9 335.4L766.5 337.0L767.1 341.1L767.7 344.9L768.3 343.5L768.9 338.3L769.5 338.2L770.1 340.4L770.7 345.8L771.4 346.1L772.0 344.9L772.6 340.5L773.2 337.6L773.8 335.2L774.4 336.9L775.0 338.0L775.6 340.6L776.2 343.1L776.8 341.5L777.4 338.6L778.0 338.4L778.6 337.0L779.2 336.8L779.8 334.3L780.4 334.7L781.0 334.6L781.6 330.6L782.2 330.5L782.8 328.6L783.4 326.2L784.0 325.5L784.6 325.6L785.2 325.9L785.8 325.7L786.4 322.8L787.0 323.8L787.6 322.0L788.2 321.1L788.8 324.3L789.4 323.5L790.0 322.5L790.7 326.2L791.4 327.6L792.1 328.7L792.8 325.8L793.4 324.4L794.1 321.8L794.8 319.7L795.5 320.8L796.2 317.7L796.9 318.1L797.6 325.1L798.3 328.0L798.9 326.6L799.6 327.5L800.3 327.5L801.0 325.3L801.7 323.3L802.4 324.6L803.1 323.0L803.8 320.4L804.4 318.9L805.1 323.8L805.8 320.5L806.5 322.5L807.2 318.9L807.9 319.9L808.6 315.9L809.3 314.9L809.9 316.6L810.6 317.6L811.3 317.8L812.0 320.4L812.7 323.6L813.4 324.6L814.1 323.9L814.6 322.7L815.2 323.4L815.8 320.1L816.4 319.2L816.9 317.2L817.5 316.3L818.1 314.6L818.7 315.1L819.3 313.9L819.9 315.3L820.5 314.6L821.0 313.4L821.6 313.6L822.3 315.8L823.0 315.1L823.7 317.5L824.4 315.6L825.1 316.3L825.8 317.4L826.5 319.1L827.1 316.6L827.8 316.3L828.5 314.2L829.2 312.9L829.9 312.1L830.6 313.5L831.3 311.4L832.0 309.4L832.6 311.6L833.3 315.9L834.0 318.4L834.6 319.4L835.2 320.5L835.7 321.9L836.3 323.5L836.9 325.4L837.5 325.9L838.1 322.9L838.8 317.3L839.5 312.9L840.2 309.3L840.9 307.8L841.6 305.3L842.3 307.8L843.0 310.5L843.6 312.0L844.3 316.3L845.0 314.3L845.7 310.3L846.4 310.8L847.1 313.9L847.8 314.5L848.5 315.9L849.1 316.3L849.8 315.6L850.5 317.5L851.2 317.7L851.9 318.4L852.6 315.6L853.3 314.9L854.0 318.7L854.6 325.3L855.3 338.5L856.0 352.1L856.7 339.5L857.4 332.1L858.1 338.8L858.8 343.1L859.5 340.7L860.2 335.5L860.8 334.2L861.5 333.9L862.2 333.3L862.9 330.8L863.6 330.2L864.3 328.8L865.0 326.6L865.7 331.1L866.3 332.0L867.0 334.2L867.7 341.1L868.4 344.5L869.1 350.0L869.8 344.6L870.5 340.5L871.2 336.3L871.8 334.0L872.5 334.7L873.2 332.3L873.9 332.1L874.6 331.4L875.3 330.1L876.0 330.6L876.7 327.3L877.3 327.1L878.0 321.8L878.7 319.9L879.4 317.7L880.0 316.5L880.6 314.9L881.2 317.1L881.8 315.4L882.4 312.5L882.9 310.4L883.5 310.8L884.2 311.5L884.9 314.0L885.6 317.5L886.3 317.0L887.0 318.8L887.7 323.9L888.3 322.1L889.0 314.7L889.7 312.9L890.3 312.7L890.9 310.2L891.4 310.6L892.0 307.4L892.6 310.7L893.2 309.4L893.9 310.3L894.5 309.8L895.2 309.2L895.9 312.9L896.6 316.5L897.3 320.2L898.0 323.9L898.7 318.6L899.4 317.0L900.0 321.1L900.7 323.9L901.4 321.0L902.1 316.9L902.8 314.6L903.5 312.9L904.2 312.9L904.9 320.2L905.5 322.5L906.2 329.2L906.9 333.3L907.6 339.0L908.3 340.7L909.0 344.1L909.7 348.6L910.4 350.1L911.0 351.3L911.7 354.1L912.4 350.7L913.1 346.6L913.8 349.0L914.5 353.5L915.2 349.7L915.9 343.8L916.5 349.1L917.2 350.9L917.9 355.5L918.6 359.8L919.3 365.8L920.0 357.8L920.7 356.2L921.4 351.4L922.0 351.5L922.7 349.6L923.4 351.6L924.1 350.0L924.8 346.9L925.5 344.1L926.2 343.1L926.9 341.7L927.6 338.3L928.2 339.4L928.9 336.9L929.6 339.0L930.3 340.4L931.0 337.5L931.7 337.4L932.4 336.5L933.1 334.9L933.7 333.5L934.4 333.3L935.1 333.4L935.8 331.5L936.5 329.9L937.2 327.6L937.9 328.0L938.6 325.6L939.2 326.7L939.9 324.6L940.6 329.1L941.3 329.4L942.0 327.1L942.7 325.7L943.4 323.2" fill="none" stroke="#dc3558" stroke-width="1.15" stroke-linejoin="round"/>
<path d="M205.7 466.6L206.3 466.3L206.8 466.6L207.4 465.0L208.0 465.6L208.6 464.6L209.2 464.2L209.7 464.7L210.3 463.5L210.9 464.3L211.6 465.0L212.2 466.1L212.8 467.0L213.4 467.2L214.0 466.6L214.7 466.4L215.3 465.1L215.9 464.9L216.5 464.6L217.1 463.7L217.7 462.5L218.3 461.7L218.9 461.0L219.5 461.1L220.1 460.5L220.6 459.9L221.3 459.6L221.9 459.8L222.5 458.8L223.1 459.5L223.7 459.4L224.5 461.4L225.3 463.0L225.9 462.9L226.6 461.5L227.2 461.2L227.9 461.0L228.5 460.1L229.1 461.1L229.7 460.3L230.3 461.0L231.0 462.0L231.6 464.4L232.2 464.4L232.9 467.9L233.5 469.2L234.2 468.4L234.8 467.0L235.5 466.4L236.1 465.1L236.8 464.6L237.4 464.1L238.1 462.6L238.7 462.0L239.3 461.0L239.9 460.4L240.6 459.6L241.2 459.5L241.8 458.9L242.4 459.2L243.1 461.1L243.7 460.1L244.4 462.0L245.0 461.4L245.7 461.4L246.3 460.8L247.0 462.0L247.6 461.7L248.2 458.2L248.8 458.2L249.4 456.9L250.0 456.8L250.6 454.8L251.2 454.3L251.8 456.7L252.4 456.2L253.0 457.2L253.7 457.9L254.4 456.7L255.2 456.3L255.9 457.9L256.6 458.0L257.3 459.9L258.0 458.8L258.8 457.9L259.6 459.6L260.4 461.0L261.1 461.2L261.7 457.8L262.4 458.4L263.1 461.0L263.7 462.3L264.4 463.1L265.0 465.1L265.6 466.1L266.3 466.5L266.9 468.5L267.5 468.5L268.1 469.2L268.8 468.1L269.5 467.0L270.2 466.1L270.8 466.1L271.5 466.3L272.1 466.0L272.8 466.6L273.4 466.1L274.0 462.2L274.7 459.5L275.3 459.9L276.0 459.0L276.7 458.1L277.4 457.3L278.1 459.1L278.8 460.3L279.5 462.0L280.1 461.6L280.8 461.7L281.4 461.8L282.0 461.0L282.8 458.9L283.6 457.3L284.3 458.7L285.0 461.6L285.7 462.0L286.3 464.4L287.0 465.6L287.7 468.2L288.4 474.3L289.1 478.2L289.8 482.6L290.4 480.5L291.1 478.4L291.7 477.4L292.4 475.4L293.1 478.4L293.7 481.7L294.4 485.7L295.1 484.0L295.7 483.4L296.4 483.2L297.0 481.6L297.7 479.0L298.4 476.0L299.1 474.4L299.7 476.5L300.4 478.0L301.0 480.3L301.7 481.6L302.3 480.8L302.9 478.6L303.5 477.2L304.1 475.8L304.7 474.4L305.4 476.6L306.0 480.4L306.7 483.6L307.3 485.7L308.0 483.8L308.7 481.5L309.4 479.5L310.1 483.5L310.8 487.4L311.5 491.9L312.1 487.0L312.8 482.8L313.5 478.5L314.1 477.4L314.8 477.0L315.4 475.8L316.0 476.2L316.6 475.4L317.3 474.3L317.9 472.5L318.6 472.0L319.2 469.7L319.9 469.9L320.5 469.5L321.2 467.9L321.8 469.5L322.5 471.7L323.2 474.1L323.9 472.7L324.6 472.4L325.3 471.0L325.9 469.9L326.6 470.5L327.2 469.2L327.9 468.9L328.6 471.8L329.2 473.7L329.9 476.1L330.6 478.1L331.3 479.4L332.0 482.3L332.7 478.5L333.4 475.3L334.1 472.0L334.8 471.3L335.6 469.9L336.3 470.8L337.0 470.9L337.7 472.0L338.4 473.6L339.0 475.3L339.7 476.1L340.4 474.7L341.0 473.3L341.7 472.0L342.3 471.0L342.9 470.9L343.6 470.2L344.2 468.9L344.8 469.1L345.4 468.4L346.1 467.5L346.7 466.7L347.3 467.1L348.0 465.8L348.6 465.6L349.3 464.1L349.9 463.9L350.6 463.2L351.3 463.2L351.9 462.2L352.6 462.2L353.3 461.9L353.9 462.2L354.5 460.5L355.1 461.5L355.7 461.2L356.4 460.6L357.1 459.5L357.8 457.4L358.5 457.3L359.1 457.2L359.7 456.4L360.2 457.1L360.8 457.0L361.4 456.5L361.9 455.8L362.5 455.7L363.1 456.3L363.7 455.7L364.2 455.2L364.8 455.7L365.4 455.5L366.0 454.9L366.5 456.3L367.1 454.7L367.7 455.8L368.3 453.5L368.8 454.2L369.5 454.0L370.2 457.2L370.9 457.8L371.5 456.4L372.2 454.0L372.8 452.3L373.5 450.6L374.1 449.4L374.7 449.8L375.3 449.4L375.9 449.7L376.5 450.2L377.1 449.5L377.7 449.3L378.3 449.2L378.8 448.2L379.4 448.1L380.0 448.1L380.6 447.6L381.2 447.5L381.9 450.1L382.5 450.5L383.1 454.1L383.8 454.7L384.4 453.6L385.1 454.3L385.7 452.7L386.4 452.6L387.0 454.2L387.7 453.7L388.3 454.4L388.9 454.7L389.6 454.1L390.2 452.2L390.8 451.0L391.4 449.4L392.0 449.5L392.7 451.5L393.3 451.6L393.9 452.9L394.5 454.5L395.1 455.7L395.7 457.8L396.3 457.1L396.9 459.4L397.5 460.2L398.1 461.9L398.7 462.0L399.3 464.0L399.9 463.0L400.6 462.9L401.2 462.6L401.8 460.9L402.5 463.6L403.1 464.0L403.8 466.3L404.4 468.1L405.1 466.5L405.7 464.2L406.4 462.6L407.0 461.9L407.6 461.3L408.2 460.0L408.9 458.7L409.5 458.5L410.1 456.8L410.7 457.2L411.3 459.1L412.0 459.9L412.6 460.9L413.2 461.9L413.8 460.5L414.4 458.7L415.1 457.1L415.7 455.5L416.3 453.7L416.9 456.0L417.5 456.0L418.2 458.0L418.8 459.0L419.4 459.9L420.0 458.8L420.6 458.7L421.2 456.9L421.9 457.2L422.5 455.7L423.2 456.3L423.9 457.5L424.6 458.8L425.2 452.2L425.7 452.0L426.3 452.1L426.9 451.8L427.5 451.4L428.0 450.4L428.6 449.6L429.2 450.2L429.7 449.6L430.3 449.1L430.9 448.4L431.5 449.2L432.1 448.4L432.7 447.4L433.3 448.0L433.9 446.7L434.4 447.1L435.0 446.8L435.6 447.6L436.2 446.4L436.7 447.6L437.3 446.8L437.9 448.2L438.5 447.4L439.0 448.1L439.6 448.1L440.2 446.4L440.8 446.2L441.5 446.2L442.1 445.1L442.7 444.0L443.3 442.3L443.9 443.6L444.6 443.0L445.2 441.7L445.8 441.4L446.4 442.6L447.0 441.6L447.6 442.7L448.2 443.9L448.7 444.5L449.3 444.7L449.9 444.5L450.5 443.3L451.2 442.3L451.8 443.2L452.4 441.5L453.0 441.9L453.7 442.9L454.3 443.1L455.0 445.7L455.6 446.0L456.2 446.7L456.8 446.8L457.4 446.6L458.0 446.8L458.6 446.7L459.2 447.1L459.8 447.7L460.3 448.2L460.9 448.8L461.5 448.7L462.0 450.6L462.6 450.1L463.2 451.2L463.7 451.7L464.3 450.8L464.8 451.1L465.4 452.2L466.0 452.5L466.5 451.5L467.1 451.4L467.7 451.0L468.2 450.9L468.8 449.8L469.3 450.2L469.9 449.7L470.5 449.7L471.0 448.5L471.6 449.1L472.2 449.2L472.7 448.9L473.3 447.3L473.9 447.7L474.4 448.0L475.0 448.1L475.5 447.5L476.1 448.2L476.7 447.0L477.2 446.4L477.8 446.6L478.4 446.3L479.0 447.2L479.6 446.4L480.2 447.4L480.7 447.6L481.3 447.3L481.9 447.1L482.6 448.8L483.2 449.0L483.9 450.2L484.5 451.2L485.2 447.7L485.9 444.6L486.6 441.9L487.1 440.9L487.7 441.0L488.3 440.3L488.8 439.7L489.4 440.5L490.0 440.4L490.5 439.5L491.1 440.3L491.7 439.6L492.2 438.8L492.8 439.0L493.4 437.7L494.0 436.7L494.6 437.7L495.2 437.2L495.8 437.0L496.4 436.2L496.9 436.3L497.5 436.8L498.1 435.5L498.7 436.0L499.2 434.8L499.8 433.6L500.4 434.7L501.0 435.6L501.5 434.7L502.1 434.4L502.7 436.6L503.3 436.0L503.9 436.8L504.5 437.7L505.1 438.3L505.7 438.8L506.3 436.8L506.9 436.0L507.5 434.8L508.1 433.6L508.8 431.6L509.3 430.7L509.9 431.8L510.5 431.6L511.1 431.6L511.7 428.4L512.3 429.0L512.9 428.5L513.5 427.5L514.1 428.9L514.6 429.1L515.2 428.0L515.8 427.7L516.4 429.1L517.0 429.0L517.6 429.3L518.2 428.3L518.8 428.6L519.4 426.9L520.0 428.1L520.5 428.7L521.1 428.5L521.8 427.6L522.5 427.6L523.2 425.4L523.8 426.1L524.5 426.9L525.1 430.4L525.8 431.6L526.4 430.2L527.0 429.7L527.6 429.0L528.2 427.9L528.8 427.3L529.4 425.4L530.0 425.5L530.6 422.7L531.2 423.1L531.7 424.0L532.3 421.4L532.9 421.6L533.5 420.2L534.1 419.4L534.8 418.3L535.4 419.0L536.0 417.7L536.6 416.1L537.2 415.2L537.8 415.1L538.4 416.1L539.0 414.4L539.6 415.0L540.2 416.3L540.8 415.7L541.4 415.8L542.0 416.2L542.6 418.3L543.2 419.4L543.8 421.2L544.4 421.9L545.0 422.4L545.6 421.3L546.3 420.1L546.9 419.4L547.5 418.4L548.1 417.6L548.7 420.0L549.3 421.6L549.9 422.8L550.5 423.5L551.1 424.5L551.7 426.0L552.3 425.7L552.9 424.0L553.5 423.5L554.1 421.2L554.7 421.2L555.3 420.6L555.9 420.0L556.5 416.8L557.1 414.9L557.7 414.5L558.3 414.2L558.9 411.6L559.5 412.3L560.1 410.9L560.7 410.7L561.3 410.8L561.9 410.0L562.5 410.6L563.1 410.4L563.7 410.0L564.3 408.8L564.9 409.4L565.5 409.5L566.1 408.8L566.7 408.6L567.3 409.2L567.9 410.2L568.5 411.5L569.1 410.1L569.7 410.4L570.3 411.5L570.9 411.6L571.5 412.5L572.1 413.1L572.7 415.9L573.3 415.2L573.9 417.0L574.5 416.8L575.1 417.0L575.7 417.1L576.3 417.8L576.9 418.7L577.6 419.4L578.2 418.8L578.8 418.2L579.4 416.8L580.0 414.8L580.6 414.7L581.2 413.2L581.8 412.8L582.4 411.6L583.0 411.4L583.6 409.6L584.2 408.2L584.8 406.7L585.4 406.2L586.0 407.2L586.6 408.4L587.2 408.6L587.8 410.4L588.4 410.1L589.0 411.3L589.6 409.3L590.2 410.4L590.8 410.1L591.4 411.0L592.0 413.6L592.6 414.3L593.2 415.2L593.8 413.8L594.4 411.9L595.0 410.0L595.6 408.0L596.2 407.0L596.8 404.3L597.4 404.6L598.0 403.6L598.6 401.9L599.2 400.7L599.8 402.2L600.4 401.9L601.0 399.9L601.6 400.6L602.2 400.7L602.8 400.9L603.4 401.0L604.0 402.2L604.6 401.2L605.2 402.6L605.8 401.5L606.4 401.1L607.0 400.6L607.6 399.2L608.2 398.3L608.8 397.7L609.5 397.9L610.1 395.1L610.7 397.1L611.3 395.6L611.9 395.3L612.5 394.7L613.1 395.6L613.7 394.6L614.3 394.8L614.9 396.6L615.5 397.1L616.1 396.9L616.7 398.4L617.3 397.3L617.9 397.2L618.5 397.9L619.1 398.9L619.7 398.9L620.3 396.4L620.9 394.5L621.5 392.9L622.1 391.6L622.7 391.1L623.3 390.7L623.9 390.9L624.5 391.2L625.1 389.9L625.7 391.0L626.3 390.6L626.9 389.9L627.5 389.9L628.1 389.2L628.7 391.1L629.3 390.3L629.9 391.3L630.5 390.6L631.1 391.1L631.7 389.5L632.3 391.2L632.9 390.5L633.5 392.7L634.1 394.5L634.7 396.7L635.3 398.3L635.9 397.6L636.5 400.3L637.1 401.2L637.7 403.2L638.3 402.7L638.9 399.1L639.5 396.9L640.1 396.1L640.7 393.5L641.4 392.1L642.0 393.6L642.6 391.1L643.2 391.1L643.8 390.5L644.4 389.7L645.0 391.0L645.6 388.3L646.2 390.7L646.8 389.4L647.4 389.9L648.0 389.0L648.6 386.9L649.2 387.2L649.8 386.2L650.4 385.1L651.0 386.7L651.6 387.5L652.2 388.8L652.8 389.3L653.4 389.8L654.0 388.4L654.6 387.3L655.2 387.0L655.8 388.3L656.4 387.5L657.0 386.7L657.6 387.5L658.2 386.0L658.8 384.6L659.4 385.7L660.0 384.5L660.0 384.0L660.6 386.7L661.2 385.6L661.8 385.8L662.4 387.6L663.1 388.6L663.9 392.0L664.6 393.0L665.3 390.3L665.9 388.2L666.6 386.4L667.2 386.6L667.8 385.8L668.4 385.6L669.0 384.7L669.6 384.4L670.2 384.6L670.8 385.0L671.4 385.2L672.0 385.8L672.6 385.1L673.2 385.8L673.8 385.7L674.4 385.3L675.0 384.5L675.6 384.0L676.3 384.8L676.9 385.6L677.5 385.3L678.1 385.5L678.7 385.8L679.3 384.0L679.9 384.2L680.5 382.8L681.1 381.7L681.7 381.0L682.3 379.6L682.9 380.1L683.5 381.3L684.1 378.6L684.7 377.5L685.3 376.8L685.9 377.3L686.5 376.4L687.1 377.2L687.7 376.7L688.3 377.4L688.9 376.2L689.5 376.4L690.1 375.8L690.7 374.9L691.3 374.4L691.9 373.4L692.5 374.1L693.1 372.6L693.7 374.1L694.3 373.2L694.9 372.4L695.5 372.3L696.1 371.9L696.7 373.2L697.3 373.4L697.9 372.1L698.5 373.8L699.1 373.0L699.7 373.1L700.3 371.3L700.9 369.6L701.5 371.3L702.1 371.3L702.7 371.3L703.3 371.8L703.9 371.4L704.5 371.3L705.1 373.1L705.7 374.9L706.3 377.6L706.9 378.0L707.6 379.2L708.2 380.0L708.8 379.9L709.4 381.0L710.0 380.7L710.6 378.1L711.2 377.6L711.8 375.6L712.4 372.7L713.0 373.9L713.6 372.6L714.2 371.3L714.8 370.7L715.4 371.4L716.0 370.5L716.6 369.6L717.2 368.9L717.8 370.9L718.4 369.3L719.0 368.3L719.6 369.2L720.2 368.2L720.8 370.5L721.4 370.1L722.0 369.6L722.6 370.1L723.2 369.7L723.8 367.8L724.4 369.7L725.0 367.7L725.6 368.3L726.2 369.7L726.8 369.1L727.4 369.5L728.0 371.1L728.6 371.3L729.2 372.0L729.8 371.3L730.4 372.8L731.0 373.9L731.6 373.6L732.2 374.4L732.8 373.5L733.4 374.9L734.0 375.6L734.6 377.7L735.2 381.0L735.8 384.6L736.4 387.6L737.0 385.1L737.6 382.6L738.2 378.8L738.8 378.0L739.5 376.4L740.1 373.9L740.7 371.8L741.3 370.4L741.9 368.3L742.5 369.5L743.1 365.6L743.7 364.5L744.3 365.3L744.9 365.8L745.5 364.1L746.1 366.0L746.7 363.5L747.3 363.9L747.9 364.1L748.5 364.2L749.1 363.8L749.7 362.8L750.3 362.2L750.9 361.0L751.5 360.5L752.1 359.8L752.7 359.7L753.3 360.9L753.9 359.3L754.5 360.2L755.1 359.8L755.7 360.4L756.3 361.1L756.9 360.5L757.5 363.5L758.1 364.0L758.7 365.9L759.3 367.7L759.9 369.9L760.5 371.3L761.1 370.1L761.7 364.0L762.3 359.9L762.9 360.6L763.5 357.4L764.1 359.3L764.7 356.6L765.3 357.5L765.9 358.4L766.5 360.9L767.1 363.5L767.7 365.8L768.3 368.3L768.9 365.5L769.5 362.3L770.1 364.7L770.7 366.6L771.4 368.3L772.0 366.1L772.6 367.3L773.2 363.3L773.8 361.1L774.4 363.6L775.0 366.7L775.6 367.5L776.2 368.3L776.8 367.7L777.4 366.2L778.0 366.6L778.6 362.5L779.2 362.3L779.8 360.4L780.4 360.3L781.0 356.9L781.6 357.1L782.2 357.8L782.8 355.7L783.4 355.0L784.0 355.3L784.6 355.5L785.2 353.3L785.8 354.4L786.4 353.9L787.0 353.5L787.6 353.2L788.2 354.3L788.8 354.8L789.4 355.1L790.0 356.2L790.7 358.1L791.4 360.1L792.1 363.1L792.8 362.0L793.4 360.1L794.1 356.9L794.8 356.8L795.5 355.4L796.2 354.8L796.9 355.8L797.6 358.1L798.3 361.0L798.8 359.7L799.4 360.3L800.0 360.5L800.6 360.0L801.2 358.5L801.8 357.8L802.4 357.6L803.0 357.2L803.5 356.6L804.1 356.5L804.7 356.8L805.2 354.1L805.8 354.1L806.5 356.8L807.2 353.0L807.9 353.9L808.6 356.2L809.3 354.0L809.9 353.8L810.6 353.9L811.3 353.5L812.0 356.5L812.7 354.5L813.4 357.2L814.1 356.9L814.8 355.5L815.4 355.0L816.1 352.7L816.8 352.8L817.4 354.5L818.0 352.0L818.5 351.1L819.1 353.8L819.7 351.2L820.3 350.7L820.9 352.0L821.6 352.3L822.3 352.4L823.0 354.1L823.7 353.7L824.4 356.0L825.1 358.9L825.8 358.3L826.5 357.5L827.1 355.7L827.8 355.8L828.5 353.5L829.2 352.1L829.9 354.2L830.6 352.4L831.3 352.1L832.0 353.1L832.6 356.6L833.3 358.3L834.0 359.6L834.6 359.8L835.2 360.8L835.7 362.0L836.3 362.9L836.9 361.2L837.5 362.4L838.1 357.0L838.8 359.0L839.5 354.1L839.5 353.8L840.1 353.1L840.7 352.6L841.3 353.1L841.9 352.2L842.5 353.3L843.2 356.4L843.8 355.6L844.4 358.4L845.2 356.4L846.0 354.8L846.6 354.3L847.2 357.8L847.9 356.7L848.5 358.7L849.1 358.4L849.9 358.8L850.6 356.4L851.3 355.1L851.9 355.9L852.5 356.8L853.1 356.0L853.7 355.8L854.8 365.6L855.4 375.8L856.0 386.3L856.7 379.6L857.3 371.3L858.0 374.9L858.7 376.3L859.4 379.6L860.2 377.1L861.0 374.9L861.6 374.6L862.2 373.4L862.8 372.5L863.4 370.4L864.0 372.1L864.6 369.8L865.2 371.1L865.9 373.1L866.5 374.4L867.2 376.0L867.8 378.9L868.5 381.9L869.2 384.7L869.9 379.7L870.6 376.5L871.3 371.8L871.9 371.7L872.6 369.6L873.2 368.7L873.9 366.7L874.6 367.9L875.4 368.2L876.1 367.2L876.7 367.9L877.3 364.4L878.0 364.1L878.8 362.4L879.5 360.0L880.2 360.3L880.9 358.9L881.6 357.9L882.4 355.3L883.1 354.8L883.8 354.6L884.4 358.2L885.1 356.5L885.7 358.4L886.5 361.8L887.3 365.1L888.0 361.8L888.8 357.4L889.4 357.3L890.0 355.3L890.6 355.0L891.2 356.7L891.8 355.9L892.4 356.3L893.0 356.4L893.7 359.0L894.5 361.5L895.5 358.4L896.2 361.5L896.9 362.9L897.6 367.2L898.4 362.2L899.1 360.5L899.9 364.5L900.7 366.7L901.5 362.9L902.2 360.5L903.0 358.8L903.8 359.4L904.5 360.0L905.2 365.1L905.9 367.2L906.6 371.4L907.4 378.0L908.1 378.3L908.8 381.0L909.5 381.6L910.2 384.0L910.8 386.3L911.5 387.8L912.2 385.3L912.9 382.5L913.6 383.7L914.4 379.4L915.1 377.0L915.9 379.0L916.7 381.6L917.7 380.6L918.4 382.6L919.0 386.6L919.7 388.7L920.3 390.9L921.1 384.6L921.8 380.1L922.5 379.8L923.2 378.2L923.9 377.5L924.6 376.9L925.3 378.2L926.0 377.0L926.7 372.0L927.5 370.3L928.2 371.1L928.9 371.0L929.6 369.8L930.3 366.6L931.0 367.2L931.7 366.2L932.3 365.1L933.0 363.3L933.7 363.6L934.4 363.0L935.0 362.8L935.7 363.6L936.3 363.6L937.0 361.8L937.7 359.0L938.4 360.0L939.0 361.5L939.6 361.7L940.2 360.4L940.8 362.4L941.5 362.0L942.1 362.7L942.8 357.7L943.5 357.9" fill="none" stroke="#4fd84f" stroke-width="1.15" stroke-linejoin="round"/>
<path d="M205.7 466.1L206.3 465.7L206.8 465.6L207.4 464.7L208.0 464.8L208.6 464.7L209.2 464.0L209.7 464.1L210.3 463.0L210.9 463.3L211.6 464.5L212.2 464.8L212.8 465.5L213.4 466.6L214.0 466.0L214.6 465.7L215.2 465.3L215.8 464.9L216.4 465.1L217.0 463.5L217.6 463.4L218.2 461.4L218.8 461.9L219.4 460.8L220.0 460.3L220.6 459.9L221.3 460.6L221.9 459.5L222.6 458.4L223.2 459.4L223.9 460.1L224.6 460.3L225.3 461.0L225.9 460.1L226.6 460.2L227.2 460.2L227.9 460.4L228.5 460.5L229.1 460.4L229.7 460.8L230.3 461.9L231.0 461.0L231.6 461.9L232.2 463.3L232.9 465.1L233.5 466.6L234.2 466.3L234.8 464.4L235.5 464.7L236.1 463.0L236.7 461.7L237.4 461.2L238.0 461.1L238.6 460.1L239.2 459.9L239.9 459.0L240.5 459.2L241.2 458.8L241.8 457.9L242.4 458.4L243.0 458.7L243.7 460.2L244.3 460.1L244.9 460.4L245.5 459.9L246.2 460.4L246.8 458.8L247.5 458.9L248.1 457.8L248.7 456.9L249.2 455.4L249.8 453.8L250.4 453.2L251.0 451.6L251.6 450.6L252.3 451.3L253.0 452.1L253.7 453.7L254.3 454.3L255.0 452.9L255.6 453.7L256.2 452.7L256.9 453.5L257.5 453.6L258.2 454.7L258.8 454.8L259.5 455.6L260.1 456.1L260.8 455.9L261.4 457.3L262.2 456.1L263.0 454.8L263.7 458.4L264.5 461.0L265.1 462.1L265.8 463.3L266.4 464.5L267.1 464.6L267.7 464.2L268.3 464.5L268.9 461.9L269.5 462.0L270.1 460.3L270.7 461.0L271.4 462.1L272.1 462.4L272.8 463.0L273.4 462.5L274.0 459.7L274.7 457.2L275.3 456.8L276.0 456.4L276.7 453.6L277.4 453.2L278.0 453.2L278.7 454.7L279.3 455.9L280.0 456.3L280.7 455.1L281.4 454.7L282.0 453.7L282.7 452.9L283.4 455.5L284.1 454.8L284.8 456.8L285.5 459.0L286.2 461.0L286.9 463.0L287.5 464.5L288.2 466.1L289.0 472.9L289.8 479.5L290.4 477.2L291.1 475.9L291.7 474.4L292.4 472.3L293.1 475.3L293.7 477.1L294.4 479.5L295.1 477.9L295.8 476.3L296.5 474.4L297.1 473.3L297.8 471.7L298.4 470.0L299.1 468.7L299.8 471.8L300.6 475.4L301.7 471.3L302.4 475.0L303.2 477.5L303.9 475.2L304.6 472.7L305.3 470.2L306.0 474.9L306.6 476.2L307.3 478.5L308.0 477.9L308.7 476.5L309.4 475.4L310.1 477.3L310.8 480.8L311.5 482.6L312.1 479.1L312.8 475.8L313.5 472.3L314.1 472.2L314.8 471.6L315.4 470.6L316.0 469.8L316.6 469.2L317.3 469.2L317.9 467.3L318.6 465.8L319.2 463.5L319.9 462.9L320.5 460.9L321.2 459.1L321.8 461.0L322.5 463.3L323.2 464.8L323.9 464.0L324.6 464.2L325.3 462.2L325.9 462.0L326.6 461.8L327.2 462.1L327.9 461.2L328.6 463.1L329.2 466.2L329.9 467.9L330.6 469.9L331.3 472.6L332.0 474.1L332.8 467.9L333.5 462.7L334.2 462.6L334.8 461.0L335.5 461.3L336.1 461.2L336.8 461.4L337.4 462.0L338.1 463.1L338.7 462.2L339.5 465.0L340.2 465.8L341.0 462.2L341.8 460.1L342.5 459.3L343.2 460.2L343.9 459.1L344.5 458.8L345.2 457.2L345.9 457.5L346.6 457.6L347.2 456.4L347.9 456.3L348.5 456.5L349.2 455.1L349.9 455.0L350.6 454.4L351.3 455.1L351.9 453.3L352.6 452.4L353.3 452.3L354.0 453.9L354.7 452.4L355.4 452.8L356.1 453.7L356.8 454.4L357.5 452.5L358.3 450.8L358.5 450.6L359.1 450.6L359.7 450.0L360.2 451.0L360.8 449.7L361.4 450.1L361.9 449.7L362.5 448.8L363.1 448.8L363.7 449.0L364.2 448.9L364.8 447.5L365.4 448.9L366.0 448.8L366.5 448.8L367.1 448.6L367.7 448.8L368.3 448.4L368.8 448.5L369.5 450.3L370.2 450.2L370.9 452.6L371.6 451.1L372.3 447.9L373.0 446.4L373.5 446.5L374.1 445.8L374.7 445.7L375.3 445.3L375.9 446.6L376.5 445.0L377.1 445.4L377.7 444.5L378.3 445.0L378.8 444.7L379.4 444.3L380.0 443.3L380.6 443.3L381.2 443.3L381.8 445.1L382.4 445.2L383.1 447.5L383.7 448.7L384.3 449.5L384.9 449.2L385.5 447.9L386.2 449.5L386.8 448.0L387.4 447.5L388.0 447.1L388.6 446.3L389.2 445.5L389.8 445.5L390.3 445.4L390.9 444.4L391.5 444.4L392.1 445.3L392.8 446.8L393.4 447.1L394.0 447.6L394.6 448.5L395.2 450.1L395.8 451.1L396.4 452.2L397.0 452.1L397.6 452.6L398.2 455.1L398.8 455.7L399.4 455.6L400.0 455.1L400.6 455.4L401.2 454.6L401.8 454.7L402.5 455.9L403.1 458.9L403.8 458.4L404.4 460.9L405.1 460.3L405.7 459.4L406.4 458.8L407.0 456.8L407.6 455.9L408.2 455.0L408.8 453.1L409.4 452.7L410.0 450.5L410.6 450.6L411.3 451.5L411.9 453.1L412.6 454.4L413.2 455.7L413.8 454.4L414.4 454.4L415.0 451.7L415.6 451.7L416.2 450.4L416.8 449.5L417.5 450.9L418.1 452.2L418.7 454.6L419.4 454.7L420.0 453.1L420.6 453.5L421.2 452.5L421.9 450.5L422.5 449.5L423.1 448.8L423.7 447.9L424.3 447.8L425.0 449.1L425.6 447.5L425.6 449.1L426.2 447.4L426.8 448.2L427.4 446.9L428.1 448.0L428.7 446.3L429.3 445.5L429.9 444.7L430.4 444.7L431.0 445.0L431.6 444.7L432.2 443.8L432.7 444.0L433.3 443.6L433.9 443.9L434.4 443.5L435.0 444.2L435.6 444.8L436.2 444.9L436.8 446.3L437.4 446.1L438.0 446.6L438.6 447.6L439.2 446.7L439.8 446.1L440.3 445.4L440.9 443.7L441.5 445.2L442.1 443.9L442.7 443.0L443.3 443.3L443.9 441.7L444.6 441.9L445.2 441.0L445.8 440.4L446.4 440.5L447.0 441.7L447.6 440.2L448.2 441.1L448.7 439.6L449.3 441.1L449.9 440.9L450.5 440.4L451.2 439.4L451.8 439.3L452.4 437.9L453.0 438.8L453.7 439.1L454.3 441.0L455.0 440.2L455.6 443.0L456.3 442.8L457.0 441.9L457.7 440.4L458.3 441.6L459.0 442.8L459.6 444.5L460.2 447.1L460.9 446.0L461.5 446.0L462.1 447.6L462.7 445.2L463.3 445.5L464.0 447.6L464.7 449.4L465.4 450.2L466.0 449.6L466.6 449.8L467.1 450.3L467.7 449.3L468.3 450.4L468.8 450.8L469.4 449.3L470.0 448.9L470.6 449.1L471.2 449.0L471.7 448.5L472.3 447.3L472.9 447.3L473.5 447.0L474.1 446.7L474.7 446.0L475.3 446.4L475.9 445.1L476.6 444.3L477.2 443.8L477.8 444.5L478.4 445.5L479.0 444.0L479.6 443.9L480.3 445.6L480.9 444.0L481.5 445.5L482.1 447.1L482.7 446.3L483.4 446.9L484.0 448.1L484.7 445.4L485.4 443.7L486.0 440.9L486.7 441.5L487.4 441.8L488.1 441.9L488.7 442.7L489.3 441.9L489.9 439.9L490.5 440.4L491.1 440.1L491.6 438.9L492.2 438.8L492.8 439.3L493.4 438.0L494.0 437.7L494.6 435.5L495.2 434.3L495.8 434.8L496.4 433.7L496.9 433.6L497.5 433.3L498.1 433.6L498.7 433.8L499.2 433.8L499.8 433.5L500.4 434.0L501.0 435.1L501.5 433.7L502.1 434.5L502.7 433.6L503.3 435.5L503.9 433.9L504.5 433.3L505.1 433.8L505.7 434.7L506.3 432.3L506.9 433.4L507.5 430.8L508.1 429.6L508.8 429.5L509.3 428.6L509.9 428.2L510.5 426.9L511.1 426.8L511.7 426.6L512.3 426.4L512.9 425.4L513.5 424.9L514.1 426.0L514.6 425.8L515.2 426.1L515.8 425.4L516.4 425.2L517.0 425.9L517.6 426.2L518.2 425.5L518.9 424.2L519.5 423.7L520.1 423.9L520.7 423.8L521.3 424.3L522.0 422.6L522.6 423.6L523.2 421.3L523.9 422.5L524.6 423.6L525.3 424.4L525.9 424.4L526.4 424.6L527.0 422.4L527.6 423.3L528.2 423.8L528.8 421.7L529.4 422.3L530.0 421.9L530.6 421.7L531.2 421.8L531.7 421.1L532.3 419.3L532.9 420.0L533.5 418.2L534.1 416.5L534.8 415.4L535.4 416.7L536.0 415.4L536.6 414.1L537.2 412.8L537.8 413.4L538.4 414.2L539.0 414.3L539.6 414.3L540.2 413.4L540.8 413.0L541.4 414.0L542.0 413.9L542.6 416.2L543.2 417.5L543.8 418.4L544.4 420.0L545.0 418.6L545.6 418.8L546.3 416.2L546.9 415.6L547.5 415.2L548.1 417.8L548.7 417.4L549.3 418.8L549.9 421.5L550.5 420.7L551.1 424.4L551.7 424.8L552.3 423.0L552.9 422.2L553.5 420.8L554.1 420.1L554.7 419.3L555.3 418.8L555.9 418.2L556.5 416.3L557.1 416.3L557.7 414.6L558.3 411.9L558.9 411.6L559.5 411.5L560.1 410.9L560.7 411.0L561.3 411.3L561.9 411.4L562.5 411.3L563.1 411.0L563.7 409.4L564.3 410.3L564.9 409.8L565.5 411.4L566.1 409.5L566.7 409.4L567.3 409.2L567.9 409.9L568.5 411.2L569.1 410.4L569.7 412.0L570.3 412.8L570.9 413.8L571.5 414.9L572.1 415.8L572.7 416.7L573.3 418.2L573.9 418.6L574.5 417.9L575.1 420.6L575.7 419.7L576.3 418.7L576.9 420.2L577.6 421.4L578.2 421.2L578.8 420.3L579.4 419.5L580.0 417.0L580.6 419.1L581.2 417.2L581.8 416.4L582.4 414.0L583.0 413.8L583.6 414.2L584.2 412.3L584.8 409.8L585.4 409.8L586.0 410.3L586.6 411.9L587.2 414.3L587.8 413.8L588.4 414.6L589.0 415.7L589.6 415.5L590.2 416.4L590.8 416.3L591.4 417.6L592.0 417.8L592.6 419.0L593.2 421.2L593.8 418.9L594.4 418.6L595.0 415.8L595.6 414.0L596.2 414.3L596.8 413.7L597.4 412.8L598.0 411.9L598.6 413.6L599.2 412.1L599.8 411.0L600.4 411.3L601.0 412.2L601.6 411.1L602.2 409.7L602.8 409.4L603.4 409.2L604.0 409.7L604.6 408.0L605.2 406.9L605.8 405.7L606.4 406.4L607.0 406.4L607.6 405.5L608.2 405.6L608.8 405.6L609.5 405.0L610.1 404.0L610.7 403.6L611.3 404.6L611.9 403.8L612.5 401.9L613.1 403.7L613.7 402.6L614.3 404.5L614.9 403.0L615.5 403.1L616.1 405.0L616.7 406.8L617.3 406.6L617.9 407.0L618.5 408.0L619.1 407.4L619.7 407.1L620.3 404.8L620.9 403.4L621.5 402.3L622.1 401.0L622.7 398.9L623.3 398.5L623.9 396.6L624.5 399.3L625.1 395.9L625.7 395.5L626.3 395.3L626.9 396.4L627.5 396.5L628.1 397.6L628.7 399.8L629.3 399.4L629.9 398.9L630.5 398.2L631.1 398.5L631.7 397.8L632.3 398.5L632.9 397.1L633.5 398.5L634.1 400.5L634.7 402.1L635.3 405.6L635.9 407.3L636.5 408.5L637.1 410.1L637.7 411.5L638.3 412.2L638.9 409.3L639.5 408.0L640.1 405.4L640.7 404.4L641.4 404.8L642.0 404.3L642.6 402.0L643.2 403.2L643.8 402.4L644.4 401.9L645.0 401.6L645.6 401.6L646.2 400.0L646.8 399.8L647.4 399.5L648.0 398.4L648.6 397.8L649.2 396.9L649.8 398.1L650.4 396.5L651.0 398.4L651.6 399.1L652.2 399.2L652.8 401.9L653.4 403.2L654.0 401.2L654.6 400.9L655.2 400.9L655.8 401.2L656.4 399.5L657.0 398.7L657.6 396.3L658.2 397.5L658.8 397.1L659.4 396.1L660.0 395.9L660.0 395.4L660.6 397.5L661.2 396.6L661.8 398.0L662.4 398.4L663.1 399.4L663.9 402.3L664.6 403.2L665.3 400.5L665.9 399.6L666.6 396.6L667.2 396.9L667.8 397.0L668.4 397.3L669.0 395.8L669.6 397.2L670.2 396.6L670.8 397.0L671.4 396.2L672.0 397.3L672.6 396.0L673.2 396.4L673.8 394.7L674.4 396.0L675.0 394.4L675.6 394.2L676.3 395.4L676.9 396.7L677.5 395.4L678.1 396.5L678.7 397.8L679.3 397.1L679.9 396.2L680.5 394.2L681.1 395.5L681.7 394.2L682.3 393.8L682.9 393.4L683.5 393.0L684.1 392.8L684.7 390.9L685.3 391.4L685.9 390.6L686.5 390.7L687.1 391.1L687.7 391.2L688.3 392.4L688.9 393.1L689.5 389.5L690.1 390.7L690.7 391.6L691.3 390.6L691.9 390.5L692.5 390.3L693.1 391.9L693.7 390.3L694.3 391.2L694.9 390.5L695.5 390.6L696.1 389.3L696.7 388.9L697.3 388.8L697.9 388.7L698.5 389.4L699.1 387.5L699.7 388.6L700.3 387.9L700.9 387.5L701.5 387.6L702.1 386.9L702.7 389.8L703.3 389.0L703.9 389.1L704.5 388.9L705.1 389.4L705.7 392.9L706.3 392.9L706.9 395.4L707.6 395.2L708.2 396.0L708.8 397.2L709.4 397.8L710.0 397.1L710.6 394.0L711.2 394.9L711.8 393.6L712.4 393.0L713.0 392.9L713.6 390.8L714.2 391.5L714.8 389.4L715.4 390.6L716.0 388.0L716.6 387.7L717.2 388.3L717.8 387.0L718.4 387.9L719.0 387.2L719.6 388.3L720.2 385.9L720.8 388.2L721.4 387.9L722.0 388.1L722.6 387.6L723.2 387.5L723.8 387.3L724.4 385.8L725.0 386.9L725.6 385.2L726.2 384.0L726.8 386.6L727.4 386.4L728.0 389.3L728.6 388.2L729.2 387.7L729.8 389.1L730.4 389.4L731.0 390.5L731.6 390.2L732.2 390.6L732.8 390.7L733.4 392.5L734.0 393.6L734.6 396.8L735.2 398.5L735.8 399.3L736.4 402.0L737.0 399.6L737.6 398.1L738.2 397.6L738.8 396.2L739.5 394.8L740.1 392.7L740.7 390.8L741.3 389.6L741.9 388.7L742.5 385.8L743.1 385.7L743.7 383.5L744.3 383.7L744.9 381.7L745.5 381.0L746.1 381.7L746.7 381.4L747.3 381.0L747.9 381.9L748.5 380.3L749.1 379.2L749.7 379.5L750.3 379.7L750.9 377.0L751.5 377.3L752.1 376.9L752.7 376.8L753.3 377.2L753.9 376.2L754.5 374.7L755.1 374.9L755.7 375.1L756.3 375.0L756.9 376.1L757.5 377.6L758.1 378.1L758.7 381.0L759.5 384.4L760.3 387.6L761.0 382.4L761.6 379.2L762.3 375.6L762.9 374.4L763.5 374.1L764.1 375.2L764.7 373.2L765.3 374.2L765.9 375.6L766.5 377.4L767.1 377.5L767.7 382.2L768.3 380.0L768.9 379.6L769.5 378.0L770.1 379.7L770.7 382.7L771.4 384.0L772.0 381.9L772.6 381.1L773.2 378.8L773.8 376.8L774.4 379.9L775.0 380.7L775.6 383.9L776.2 385.2L776.8 383.0L777.4 380.9L778.0 380.9L778.6 378.0L779.2 376.4L779.8 375.9L780.4 377.7L781.0 375.8L781.6 375.3L782.2 374.6L782.8 373.8L783.4 373.3L784.0 374.7L784.6 372.4L785.2 373.2L785.8 371.3L786.4 371.1L787.0 370.1L787.6 370.2L788.2 370.1L788.8 371.3L789.4 374.8L790.0 373.4L790.7 374.7L791.4 377.5L792.1 378.9L792.8 376.1L793.4 376.7L794.1 374.8L794.8 374.2L795.5 374.3L796.2 373.4L796.9 375.3L797.6 376.7L798.3 378.9L798.8 378.6L799.4 378.2L800.0 378.7L800.6 377.3L801.2 376.8L801.8 375.6L802.4 376.2L803.0 376.4L803.5 375.1L804.1 373.9L804.7 375.5L805.2 374.6L805.8 373.4L806.5 373.8L807.2 374.2L807.9 373.2L808.6 374.8L809.1 372.6L809.7 374.5L810.3 372.7L810.9 374.5L811.4 373.4L812.0 373.4L812.7 373.3L813.4 372.2L814.1 372.8L814.8 372.0L815.3 372.2L815.9 371.2L816.5 371.4L817.1 371.0L817.6 369.6L818.2 369.3L818.9 368.0L819.6 370.6L820.3 369.7L820.9 370.7L821.6 370.7L822.3 370.9L823.0 372.1L823.7 374.8L824.4 377.2L825.1 378.8L825.8 378.2L826.5 378.5L827.1 378.1L827.8 373.3L828.5 374.1L829.2 374.6L829.9 373.7L830.0 373.9L830.7 372.4L831.4 372.1L832.1 373.4L832.8 375.7L833.4 377.7L834.1 378.5L834.9 377.4L835.7 378.0L836.4 378.0L837.2 381.1L838.0 376.5L838.8 374.9L839.5 373.9L840.1 374.1L840.8 372.3L841.5 375.5L842.2 375.2L842.9 376.0L843.7 378.4L844.4 382.7L845.1 380.1L845.8 379.6L846.5 378.0L847.2 379.9L847.8 378.7L848.4 382.1L849.1 383.2L849.9 381.8L850.6 381.6L851.4 382.9L852.2 382.7L853.0 380.9L853.7 382.2L854.8 390.4L855.8 409.0L856.6 402.0L857.3 393.5L858.0 397.5L858.7 400.2L859.4 401.8L860.2 401.0L861.0 397.6L861.6 397.9L862.3 398.1L863.0 398.1L863.7 395.6L864.4 395.0L865.1 393.5L865.8 394.9L866.5 398.1L867.2 399.7L867.8 401.7L868.5 402.3L869.2 403.8L869.9 401.4L870.6 395.1L871.3 392.5L872.0 390.6L872.7 391.2L873.3 388.3L874.0 388.5L874.7 389.6L875.4 389.4L876.1 385.9L876.7 388.4L877.3 385.2L878.0 384.7L878.8 381.5L879.5 379.6L880.2 380.1L880.9 378.9L881.6 378.5L882.4 375.3L883.1 375.4L883.8 377.5L884.4 376.1L885.1 377.4L885.7 378.5L886.5 380.8L887.3 384.2L888.0 380.7L888.8 378.0L889.5 376.9L890.2 376.3L890.9 376.0L891.5 375.6L892.1 378.5L892.7 376.5L893.4 376.9L894.0 376.5L894.5 380.6L895.3 379.0L896.0 378.5L896.8 383.3L897.6 384.7L898.4 382.1L899.1 378.5L899.9 382.5L900.7 386.3L901.5 382.9L902.2 380.6L903.0 380.3L903.8 378.5L904.6 380.8L905.3 386.3L906.0 389.1L906.7 392.8L907.4 396.6L908.1 398.3L908.8 399.5L909.5 400.7L910.2 401.5L910.8 405.3L911.5 406.9L912.2 405.2L912.9 403.7L913.6 402.8L914.3 400.8L915.0 398.4L915.7 396.6L916.7 401.2L917.7 397.6L918.4 399.9L919.0 402.7L919.7 406.3L920.3 408.5L921.1 403.6L921.8 398.7L922.5 398.0L923.2 396.4L923.9 396.1L924.6 396.6L925.3 395.1L926.0 394.5L926.7 392.1L927.4 392.0L928.0 389.4L928.7 387.6L929.3 387.7L930.0 388.5L930.6 387.3L931.3 385.3L931.9 383.9L932.6 382.3L933.2 381.1L933.9 380.9L934.6 381.2L935.3 380.6L935.9 380.5L936.6 378.7L937.2 378.2L937.8 378.0L938.5 376.3L939.2 377.9L939.9 378.5L940.7 380.0L941.5 380.6L942.1 379.2L942.8 378.9L943.5 376.5" fill="none" stroke="#5b1a9c" stroke-width="1.15" stroke-linejoin="round"/>
<text class="xl" transform="translate(211.10,509.5) rotate(-90) scale(1,1.04)">Jan-2011</text>
<text class="xl" transform="translate(233.40,509.5) rotate(-90) scale(1,1.04)">Mar-2011</text>
<text class="xl" transform="translate(255.70,509.5) rotate(-90) scale(1,1.04)">Apr-2011</text>
<text class="xl" transform="translate(278.00,509.5) rotate(-90) scale(1,1.04)">Jun-2011</text>
<text class="xl" transform="translate(300.30,509.5) rotate(-90) scale(1,1.04)">Aug-2011</text>
<text class="xl" transform="translate(322.60,509.5) rotate(-90) scale(1,1.04)">Oct-2011</text>
<text class="xl" transform="translate(344.90,509.5) rotate(-90) scale(1,1.04)">Dec-2011</text>
<text class="xl" transform="translate(367.20,509.5) rotate(-90) scale(1,1.04)">Feb-2012</text>
<text class="xl" transform="translate(389.50,509.5) rotate(-90) scale(1,1.04)">Apr-2012</text>
<text class="xl" transform="translate(411.80,509.5) rotate(-90) scale(1,1.04)">Jun-2012</text>
<text class="xl" transform="translate(434.10,509.5) rotate(-90) scale(1,1.04)">Aug-2012</text>
<text class="xl" transform="translate(456.40,509.5) rotate(-90) scale(1,1.04)">Oct-2012</text>
<text class="xl" transform="translate(478.70,509.5) rotate(-90) scale(1,1.04)">Nov-2012</text>
<text class="xl" transform="translate(501.00,509.5) rotate(-90) scale(1,1.04)">Jan-2013</text>
<text class="xl" transform="translate(523.30,509.5) rotate(-90) scale(1,1.04)">Mar-2013</text>
<text class="xl" transform="translate(545.60,509.5) rotate(-90) scale(1,1.04)">May-2013</text>
<text class="xl" transform="translate(567.90,509.5) rotate(-90) scale(1,1.04)">Jul-2013</text>
<text class="xl" transform="translate(590.20,509.5) rotate(-90) scale(1,1.04)">Sep-2013</text>
<text class="xl" transform="translate(612.50,509.5) rotate(-90) scale(1,1.04)">Nov-2013</text>
<text class="xl" transform="translate(634.80,509.5) rotate(-90) scale(1,1.04)">Jan-2014</text>
<text class="xl" transform="translate(657.10,509.5) rotate(-90) scale(1,1.04)">Mar-2014</text>
<text class="xl" transform="translate(679.40,509.5) rotate(-90) scale(1,1.04)">May-2014</text>
<text class="xl" transform="translate(701.70,509.5) rotate(-90) scale(1,1.04)">Jul-2014</text>
<text class="xl" transform="translate(724.00,509.5) rotate(-90) scale(1,1.04)">Aug-2014</text>
<text class="xl" transform="translate(746.30,509.5) rotate(-90) scale(1,1.04)">Oct-2014</text>
<text class="xl" transform="translate(768.60,509.5) rotate(-90) scale(1,1.04)">Dec-2014</text>
<text class="xl" transform="translate(790.90,509.5) rotate(-90) scale(1,1.04)">Feb-2015</text>
<text class="xl" transform="translate(813.20,509.5) rotate(-90) scale(1,1.04)">Apr-2015</text>
<text class="xl" transform="translate(835.50,509.5) rotate(-90) scale(1,1.04)">Jun-2015</text>
<text class="xl" transform="translate(857.80,509.5) rotate(-90) scale(1,1.04)">Aug-2015</text>
<text class="xl" transform="translate(880.10,509.5) rotate(-90) scale(1,1.04)">Oct-2015</text>
<text class="xl" transform="translate(902.40,509.5) rotate(-90) scale(1,1.04)">Dec-2015</text>
<text class="xl" transform="translate(924.70,509.5) rotate(-90) scale(1,1.04)">Feb-2016</text>
<text class="xl" transform="translate(947.00,509.5) rotate(-90) scale(1,1.04)">Apr-2016</text>
<line x1="330" x2="354" y1="643" y2="643" stroke="#0e3086" stroke-width="3"/>
<text class="lg" transform="translate(359.2,646.7) rotate(0.05) scale(1,1.07)">BVP Cyber Index</text>
<line x1="470" x2="494" y1="643" y2="643" stroke="#e8718a" stroke-width="1.6"/>
<text class="lg" transform="translate(499.3,646.7) rotate(0.05) scale(1,1.07)">Nasdaq Index</text>
<line x1="591.9" x2="615.9" y1="643" y2="643" stroke="#7ee07e" stroke-width="1.6"/>
<text class="lg" transform="translate(621,646.7) rotate(0.05) scale(1,1.07)">S&amp;P Index</text>
<line x1="697" x2="721" y1="643" y2="643" stroke="#8f63c4" stroke-width="1.6"/>
<text class="lg" transform="translate(726,646.7) rotate(0.05) scale(1,1.07)">Dow Jones Index</text>
</svg>
</body></html>
